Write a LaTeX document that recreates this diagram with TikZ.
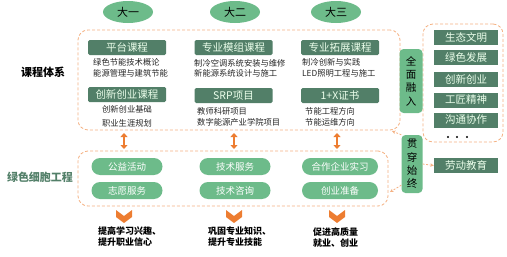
\documentclass[tikz,border=0pt]{standalone}
\usepackage{fontspec}
\newfontfamily\cjk{Noto Sans CJK SC}
\usetikzlibrary{arrows.meta,shapes.geometric}
\definecolor{dkgreen}{HTML}{527F68}
\definecolor{ltgreen}{HTML}{6DBB8A}
\definecolor{lorange}{HTML}{F4B183}
\definecolor{orng}{HTML}{ED7D31}
\newcommand\fs[1]{\fontsize{#1}{#1}\selectfont}
\begin{document}
\begin{tikzpicture}[x=1pt,y=-1pt,font=\cjk,
  year/.style={ellipse,fill=ltgreen,minimum width=50pt,minimum height=22pt,inner sep=0pt,font=\cjk\fs{11}},
  hd/.style={fill=dkgreen,text=white!92!green,minimum width=78pt,minimum height=15pt,inner sep=0pt,rounded corners=1.5pt,font=\cjk\fs{10.5}},
  tag/.style={fill=dkgreen,text=white!92!green,minimum width=64pt,minimum height=15pt,inner sep=0pt,font=\cjk\fs{10.5}},
  pill/.style={fill=ltgreen,text=white,minimum width=71pt,minimum height=17pt,inner sep=0pt,rounded corners=8.5pt,font=\cjk\fs{9.5}},
  vert/.style={fill=ltgreen,rounded corners=4pt,align=center,inner sep=0pt,minimum width=23pt,font=\cjk\fontsize{10.5}{13.3}\selectfont},
  ln/.style={anchor=west,inner sep=0pt,text=black!85,font=\cjk\fs{8.3}},
  res/.style={anchor=north west,align=left,inner sep=0pt,font=\cjk\bfseries\fontsize{9}{11}\selectfont},
  dbox/.style={draw=lorange,dashed,dash pattern=on 3pt off 2pt,line width=0.8pt,rounded corners=10pt,inner sep=0pt},
  dcon/.style={draw=lorange,dash pattern=on 2pt off 1.5pt,line width=0.8pt,-{Stealth[length=3.5pt,width=3.5pt]}},
  dbl/.style={orng,line width=2.6pt,{Triangle[length=4pt,width=7pt]}-{Triangle[length=4pt,width=7pt]}}]
\useasboundingbox (0,0) rectangle (507,257);
% dashed frames
\node[dbox,minimum width=322pt,minimum height=100pt] (top) at (239,80) {};
\node[dbox,minimum width=310pt,minimum height=55pt] (bot) at (233,178.5) {};
\node[dbox,minimum width=80pt,minimum height=118pt] (rgt) at (463,83) {};
% years
\node[year] (y1) at (128,12) {大一};
\node[year] (y2) at (235,12) {大二};
\node[year] (y3) at (336,12) {大三};
\node[font=\cjk\bfseries\fs{11}] (kc) at (43,72) {课程体系};
\node[font=\cjk\bfseries\fs{11},text=dkgreen] (lx) at (40,177) {绿色细胞工程};
% courses
\node[hd] (k1) at (127,47.5) {平台课程};
\node[hd] (k2) at (127,94.5) {创新创业课程};
\node[hd] (k3) at (233.5,47.5) {专业模组课程};
\node[hd] (k4) at (233.5,95.5) {SRP项目};
\node[hd] (k5) at (340,47.5) {专业拓展课程};
\node[hd] (k6) at (340,95.5) {1+X证书};
\node[ln] (t1) at (93,62) {绿色节能技术概论};
\node[ln] (t2) at (93,73) {能源管理与建筑节能};
\node[ln,anchor=center] (t3) at (127,109) {创新创业基础};
\node[ln,anchor=center] (t4) at (127,123) {职业生涯规划};
\node[ln] (t5) at (194,63) {制冷空调系统安装与维修};
\node[ln] (t6) at (194,73) {新能源系统设计与施工};
\node[ln] (t7) at (197,111) {教师科研项目};
\node[ln] (t8) at (197,122) {数字能源产业学院项目};
\node[ln] (t9) at (302,62) {制冷创新与实践};
\node[ln] (t10) at (302,73) {LED照明工程与施工};
\node[ln] (t11) at (305,111) {节能工程方向};
\node[ln] (t12) at (305,122) {节能运维方向};
% green cell activities
\node[pill] (p1) at (127,166.5) {公益活动};
\node[pill] (p2) at (127,190.5) {志愿服务};
\node[pill] (p3) at (235,166.5) {技术服务};
\node[pill] (p4) at (235,190.5) {技术咨询};
\node[pill,minimum width=76pt] (p5) at (340,166.5) {合作企业实习};
\node[pill,minimum width=76pt] (p6) at (340,190.5) {创业准备};
% right column
\node[tag] (s1) at (466,37.5) {生态文明};
\node[tag] (s2) at (466,57.5) {绿色发展};
\node[tag] (s3) at (466,79) {创新创业};
\node[tag] (s4) at (466,100) {工匠精神};
\node[tag] (s5) at (466,120) {沟通协作};
\foreach \x in {448,457,467} \fill (\x,137) circle (1.2);
\node[tag] (ld) at (466,165.5) {劳动教育};
\node[vert,minimum height=64pt] (qm) at (411,81) {全\\面\\融\\入};
\node[vert,minimum height=58pt,minimum width=21pt] (gc) at (412,164) {贯\\穿\\始\\终};
\coordinate (c1) at (392,131);
\coordinate (c2) at (390,192);
\draw[dcon] (gc.north west) -- (c1);
\draw[dcon] ([yshift=8pt]gc.south west) -- (c2);
\draw[dcon] (gc.east) -- (ld.west);
% arrows
\draw[dbl] (124,133) -- (124,149);
\draw[dbl] (234,133) -- (234,149);
\draw[dbl] (337,133) -- (337,149);
\foreach \x in {124,234,337}
  \fill[orng] (\x-8,210) -- ++(8,6) -- ++(8,-6) -- ++(0,7) -- ++(-8,6) -- ++(-8,-6) -- cycle;
\node[res] (r1) at (98,227) {提高学习兴趣、\\提升职业信心};
\node[res] (r2) at (208,227) {巩固专业知识、\\提升专业技能};
\node[res] (r3) at (313,227) {促进高质量\\就业、创业};
\end{tikzpicture}
\end{document}
